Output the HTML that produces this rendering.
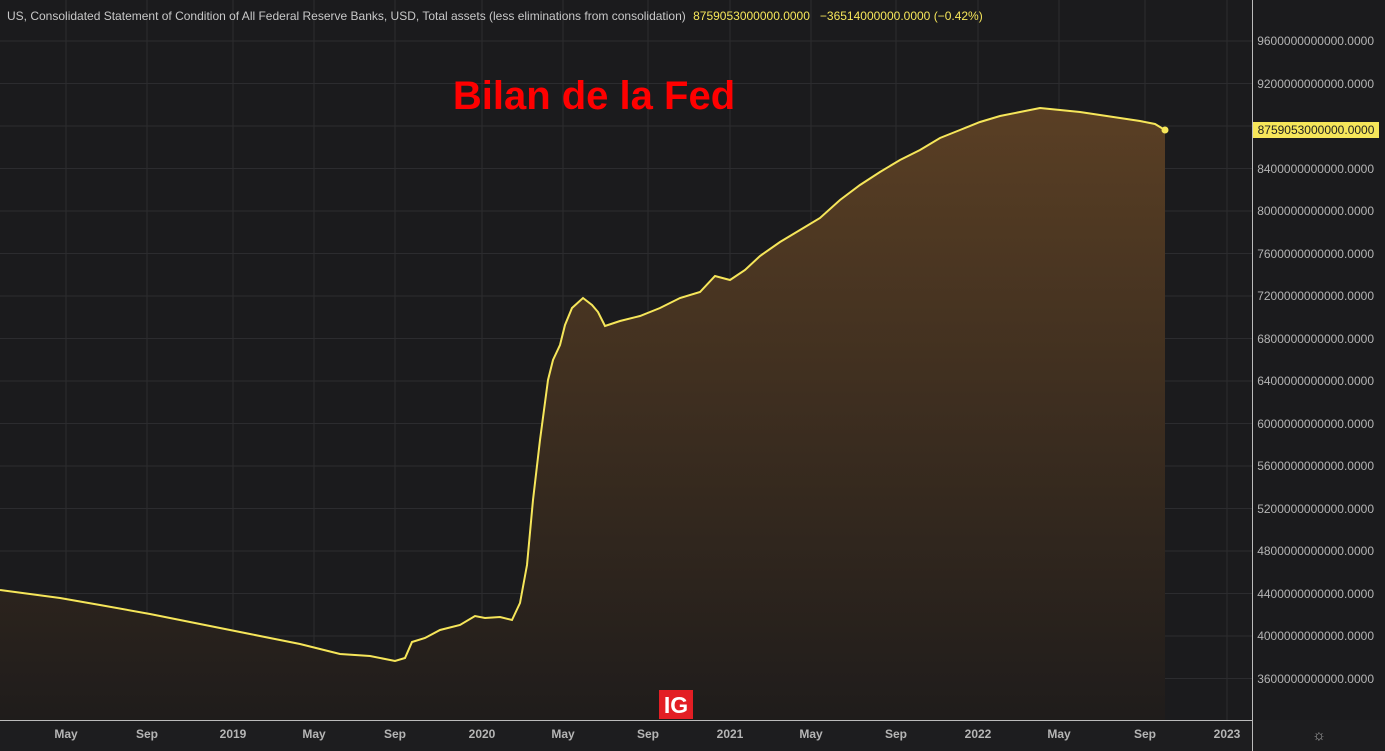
<!DOCTYPE html>
<html><head><meta charset="utf-8"><style>
body{margin:0;background:#1b1b1d;width:1385px;height:751px;overflow:hidden;font-family:"Liberation Sans",sans-serif}
</style></head><body>
<svg width="1385" height="751" xmlns="http://www.w3.org/2000/svg" style="position:absolute;left:0;top:0">
<defs><linearGradient id="g" x1="0" y1="0" x2="0" y2="1"><stop offset="0" stop-color="#5a3f24"/><stop offset="1" stop-color="#1f1c1b"/></linearGradient></defs>
<rect width="1385" height="751" fill="#1b1b1d"/>
<g stroke="#2c2c2f" stroke-width="1">
<line x1="0" x2="1252" y1="41" y2="41"/><line x1="0" x2="1252" y1="83.5" y2="83.5"/><line x1="0" x2="1252" y1="126" y2="126"/><line x1="0" x2="1252" y1="168.5" y2="168.5"/><line x1="0" x2="1252" y1="211" y2="211"/><line x1="0" x2="1252" y1="253.5" y2="253.5"/><line x1="0" x2="1252" y1="296" y2="296"/><line x1="0" x2="1252" y1="338.5" y2="338.5"/><line x1="0" x2="1252" y1="381" y2="381"/><line x1="0" x2="1252" y1="423.5" y2="423.5"/><line x1="0" x2="1252" y1="466" y2="466"/><line x1="0" x2="1252" y1="508.5" y2="508.5"/><line x1="0" x2="1252" y1="551" y2="551"/><line x1="0" x2="1252" y1="593.5" y2="593.5"/><line x1="0" x2="1252" y1="636" y2="636"/><line x1="0" x2="1252" y1="678.5" y2="678.5"/>
<line x1="66" x2="66" y1="0" y2="720"/><line x1="147" x2="147" y1="0" y2="720"/><line x1="233" x2="233" y1="0" y2="720"/><line x1="314" x2="314" y1="0" y2="720"/><line x1="395" x2="395" y1="0" y2="720"/><line x1="482" x2="482" y1="0" y2="720"/><line x1="563" x2="563" y1="0" y2="720"/><line x1="648" x2="648" y1="0" y2="720"/><line x1="730" x2="730" y1="0" y2="720"/><line x1="811" x2="811" y1="0" y2="720"/><line x1="896" x2="896" y1="0" y2="720"/><line x1="978" x2="978" y1="0" y2="720"/><line x1="1059" x2="1059" y1="0" y2="720"/><line x1="1145" x2="1145" y1="0" y2="720"/><line x1="1227" x2="1227" y1="0" y2="720"/>
</g>
<polygon fill="url(#g)" points="0,720 0,590 30,594 60,598 100,605 150,614 200,624 250,634 300,644 340,654 370,656 395,661 405,658 412,642 425,638 440,630 460,625 475,616 485,618 500,617 512,620 520,603 527,565 533,500 540,440 548,380 553,360 560,345 565,325 572,308 583,298 592,305 598,312 605,326 620,321 640,316 660,308 680,298 700,292 715,276 730,280 745,270 760,256 780,242 800,230 820,218 840,200 860,185 880,172 900,160 920,150 940,138 960,130 980,122 1000,116 1020,112 1040,108 1060,110 1080,112 1100,115 1120,118 1140,121 1155,124 1165,130 1165,720"/>
<polyline fill="none" stroke="#f6e65a" stroke-width="2" points="0,590 30,594 60,598 100,605 150,614 200,624 250,634 300,644 340,654 370,656 395,661 405,658 412,642 425,638 440,630 460,625 475,616 485,618 500,617 512,620 520,603 527,565 533,500 540,440 548,380 553,360 560,345 565,325 572,308 583,298 592,305 598,312 605,326 620,321 640,316 660,308 680,298 700,292 715,276 730,280 745,270 760,256 780,242 800,230 820,218 840,200 860,185 880,172 900,160 920,150 940,138 960,130 980,122 1000,116 1020,112 1040,108 1060,110 1080,112 1100,115 1120,118 1140,121 1155,124 1165,130"/>
<circle cx="1165" cy="130" r="3.5" fill="#f6e65a"/>
<rect x="0" y="720" width="1385" height="31" fill="#1d1d1f"/>
<line x1="0" x2="1252" y1="720.5" y2="720.5" stroke="#bbb"/>
<line x1="1252.5" x2="1252.5" y1="0" y2="751" stroke="#bbb"/>
<g fill="#b5b5b5" font-size="12" text-anchor="end">
<text x="1374" y="45">9600000000000.0000</text><text x="1374" y="88">9200000000000.0000</text><text x="1374" y="173">8400000000000.0000</text><text x="1374" y="215">8000000000000.0000</text><text x="1374" y="258">7600000000000.0000</text><text x="1374" y="300">7200000000000.0000</text><text x="1374" y="343">6800000000000.0000</text><text x="1374" y="385">6400000000000.0000</text><text x="1374" y="428">6000000000000.0000</text><text x="1374" y="470">5600000000000.0000</text><text x="1374" y="513">5200000000000.0000</text><text x="1374" y="555">4800000000000.0000</text><text x="1374" y="598">4400000000000.0000</text><text x="1374" y="640">4000000000000.0000</text><text x="1374" y="683">3600000000000.0000</text>
</g>
<rect x="1253" y="122" width="126" height="16" fill="#f6e65a"/>
<text x="1316" y="134" fill="#222" font-size="12" text-anchor="middle">8759053000000.0000</text>
<g fill="#b5b5b5" font-size="12" font-weight="bold" text-anchor="middle">
<text x="66" y="738">May</text><text x="147" y="738">Sep</text><text x="233" y="738">2019</text><text x="314" y="738">May</text><text x="395" y="738">Sep</text><text x="482" y="738">2020</text><text x="563" y="738">May</text><text x="648" y="738">Sep</text><text x="730" y="738">2021</text><text x="811" y="738">May</text><text x="896" y="738">Sep</text><text x="978" y="738">2022</text><text x="1059" y="738">May</text><text x="1145" y="738">Sep</text><text x="1227" y="738">2023</text>
</g>
<text x="1319" y="740" fill="#aaa" font-size="15" text-anchor="middle">☼</text>
<rect x="659" y="690" width="34" height="29" fill="#e31e24"/>
<text x="676" y="713" fill="#fff" font-size="23" font-weight="bold" text-anchor="middle">IG</text>
<text x="594" y="109" fill="#ff0000" font-size="40" font-weight="bold" text-anchor="middle">Bilan de la Fed</text>
<text x="7" y="20" font-size="12" fill="#c8c8c8">US, Consolidated Statement of Condition of All Federal Reserve Banks, USD, Total assets (less eliminations from consolidation) <tspan fill="#f6e65a" dx="4">8759053000000.0000</tspan><tspan fill="#f6e65a" dx="10">−36514000000.0000 (−0.42%)</tspan></text>
</svg>
</body></html>
